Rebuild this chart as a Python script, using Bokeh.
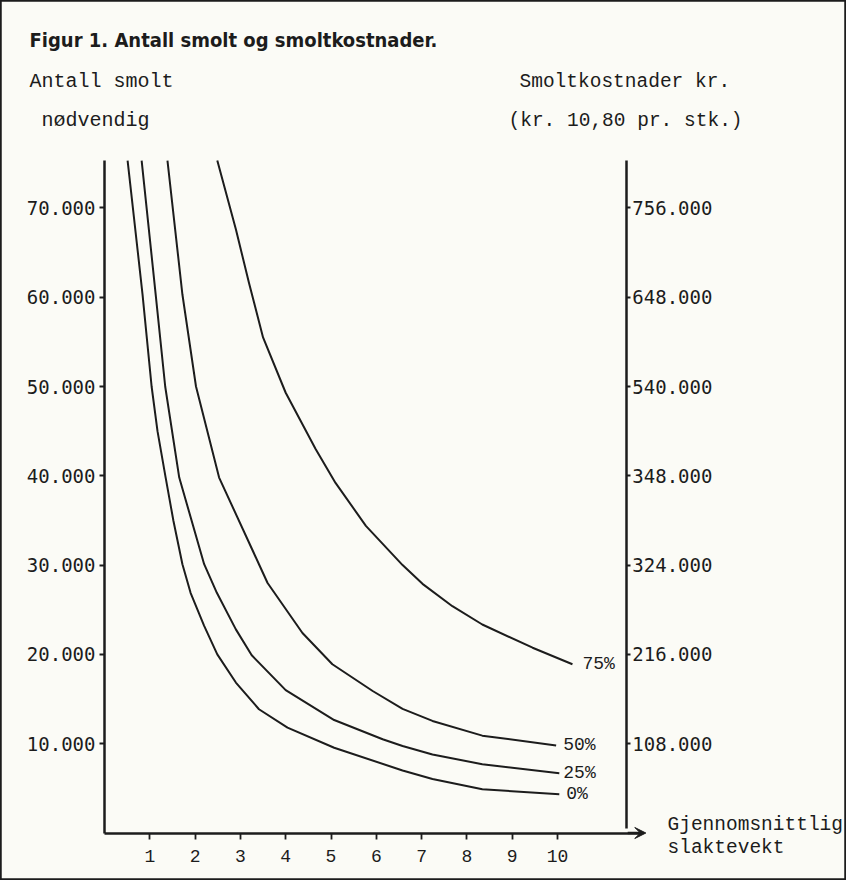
from bokeh.plotting import figure
from bokeh.models import (LinearAxis, Range1d, FixedTicker, Label, Arrow, VeeHead,
                          ColumnDataSource)
from bokeh.core.properties import value
from bokeh.embed import file_html
from bokeh.resources import INLINE

# ---------------- data ----------------
weight_0 = [0.51, 0.84, 1.04, 1.17, 1.35, 1.52, 1.72, 1.90, 2.20, 2.49, 2.90, 3.41, 4.04, 5.07, 6.58, 7.24, 8.34, 10.04]
smolt_0 = [75300, 60300, 50000, 45000, 39800, 35000, 30100, 26900, 23200, 20000, 16850, 13860, 11800, 9550, 7000, 6050, 4900, 4350]

weight_25 = [0.82, 1.13, 1.34, 1.65, 2.20, 2.48, 2.90, 3.25, 4.00, 5.07, 6.14, 6.58, 7.24, 8.34, 10.04]
smolt_25 = [75300, 60300, 50000, 39800, 30100, 26900, 22800, 19900, 16000, 12650, 10500, 9750, 8800, 7700, 6700]

weight_50 = [1.39, 1.72, 2.02, 2.53, 3.41, 3.60, 4.37, 5.03, 5.92, 6.58, 7.24, 8.34, 9.97]
smolt_50 = [75300, 60300, 50000, 39800, 30100, 28000, 22400, 18900, 15900, 13900, 12550, 10900, 9800]

weight_75 = [2.49, 2.90, 3.19, 3.50, 4.00, 4.66, 5.10, 5.77, 6.58, 7.02, 7.68, 8.34, 9.45, 10.33]
smolt_75 = [75300, 67600, 61600, 55500, 49300, 43000, 39200, 34400, 30000, 27900, 25400, 23350, 20750, 18900]

series_labels = ["0%", "25%", "50%", "75%"]

x_ticks = [1, 2, 3, 4, 5, 6, 7, 8, 9, 10]
x_tick_labels = ["1", "2", "3", "4", "5", "6", "7", "8", "9", "10"]
left_ticks = [10000, 20000, 30000, 40000, 50000, 60000, 70000]
left_tick_labels = ["10.000", "20.000", "30.000", "40.000", "50.000", "60.000", "70.000"]
price_per_smolt = 10.80
right_ticks = [108000, 216000, 324000, 432000, 540000, 648000, 756000]
right_tick_labels = ["108.000", "216.000", "324.000", "348.000", "540.000", "648.000", "756.000"]

title_text = "Figur 1. Antall smolt og smoltkostnader."
left_title = ["Antall smolt", "nødvendig"]
right_title = ["Smoltkostnader kr.", "(kr. 10,80 pr. stk.)"]
x_title = ["Gjennomsnittlig", "slaktevekt"]

# ---------------- layout / style ----------------
W, H = 846, 880
X0_PX, X_SCALE = 104.0, 45.3          # canvas px of x=0, px per unit
Y0_PX, Y_SCALE = 832.5, 89.3 / 10000  # canvas px of y=0, px per smolt
Y_TOP = 75300
X_RIGHT_AXIS = 11.52
X_ARROW_TIP = 11.95

PAPER = "#fbfbf6"
INK = "#1c1c1c"
MONO = "Liberation Mono"
GOTHIC = "DejaVu Sans Mono"
TITLE_FONT = "'Liberation Sans Narrow', 'DejaVu Sans Condensed', 'Liberation Sans', sans-serif"


def cx(px):
    return (px - X0_PX) / X_SCALE


def cy(py):
    return (Y0_PX - py) / Y_SCALE


x_range = Range1d(cx(0), cx(W))
y_range = Range1d(cy(H), cy(0))

p = figure(width=W, height=H, x_range=x_range, y_range=y_range,
           output_backend="svg", toolbar_location=None, title=None,
           x_axis_location=None, y_axis_location=None,
           min_border=0, min_border_left=0, min_border_right=0,
           min_border_top=0, min_border_bottom=0)
p.extra_y_ranges = {"cost": Range1d(cy(H) * price_per_smolt, cy(0) * price_per_smolt)}
p.xgrid.visible = False
p.ygrid.visible = False
p.background_fill_color = PAPER
p.border_fill_color = PAPER
p.outline_line_color = INK
p.outline_line_width = 2.5

# ---------------- axes ----------------
left = LinearAxis(fixed_location=0, bounds=(0, Y_TOP),
                  ticker=FixedTicker(ticks=left_ticks),
                  major_label_overrides=dict(zip(left_ticks, left_tick_labels)))
right = LinearAxis(y_range_name="cost", fixed_location=X_RIGHT_AXIS,
                   bounds=(cy(Y0_PX - 5) * price_per_smolt, (Y_TOP + 60) * price_per_smolt),
                   ticker=FixedTicker(ticks=right_ticks),
                   major_label_overrides=dict(zip(right_ticks, right_tick_labels)))
bottom = LinearAxis(fixed_location=0, bounds=(0, X_ARROW_TIP - 0.1),
                    ticker=FixedTicker(ticks=x_ticks),
                    major_label_overrides=dict(zip(x_ticks, x_tick_labels)))

for ax in (left, right, bottom):
    ax.axis_line_color = INK
    ax.axis_line_width = 2.5
    ax.major_tick_line_color = INK
    ax.major_tick_line_width = 1.8
    ax.major_tick_in = 0
    ax.major_tick_out = 5
    ax.minor_tick_in = 0
    ax.minor_tick_out = 0
    ax.major_label_text_color = INK

left.major_label_text_font = GOTHIC
left.major_label_text_font_size = "19px"
left.major_label_standoff = 4
right.major_label_text_font = GOTHIC
right.major_label_text_font_size = "19px"
right.major_label_standoff = 2
right.major_tick_out = 4
bottom.major_label_text_font = MONO
bottom.major_label_text_font_size = "18px"
bottom.major_label_standoff = 11
bottom.major_tick_out = 6

p.add_layout(left, "left")
p.add_layout(right, "right")
p.add_layout(bottom, "below")

p.add_layout(Arrow(x_start=X_ARROW_TIP - 0.4, y_start=0, x_end=X_ARROW_TIP, y_end=0,
                   line_color=INK, line_width=2.5,
                   end=VeeHead(size=11, fill_color=INK, line_color=INK, line_width=1)))

# ---------------- curves ----------------
weights = [weight_0, weight_25, weight_50, weight_75]
smolts = [smolt_0, smolt_25, smolt_50, smolt_75]
for wx, sy in zip(weights, smolts):
    p.line(wx, sy, line_color=INK, line_width=2, line_join="round")

end_src = ColumnDataSource(dict(
    x=[w[-1] for w in weights],
    y=[s[-1] for s in smolts],
    text=series_labels,
    dx=[7, 4, 7, 10],
))
p.text(x="x", y="y", text="text", x_offset="dx", source=end_src,
       text_font=value(MONO), text_font_size="18px", text_color=INK,
       text_baseline="middle", text_align="left")

# ---------------- titles ----------------
def add_label(text, px, py, font, size, style="normal"):
    p.add_layout(Label(x=cx(px), y=cy(py), text=text, text_font=font,
                       text_font_size=size, text_font_style=style,
                       text_color=INK, text_baseline="middle", text_align="left"))


add_label(title_text, 29, 39, TITLE_FONT, "20px", "bold")
add_label(left_title[0], 29, 81, MONO, "20px")
add_label(left_title[1], 41, 120, MONO, "20px")
add_label(right_title[0], 519, 81, MONO, "19.5px")
add_label(right_title[1], 508, 120, MONO, "19.5px")
add_label(x_title[0], 667, 824, MONO, "19.5px")
add_label(x_title[1], 667, 847, MONO, "19.5px")

open("out.html", "w").write(file_html(p, INLINE))
